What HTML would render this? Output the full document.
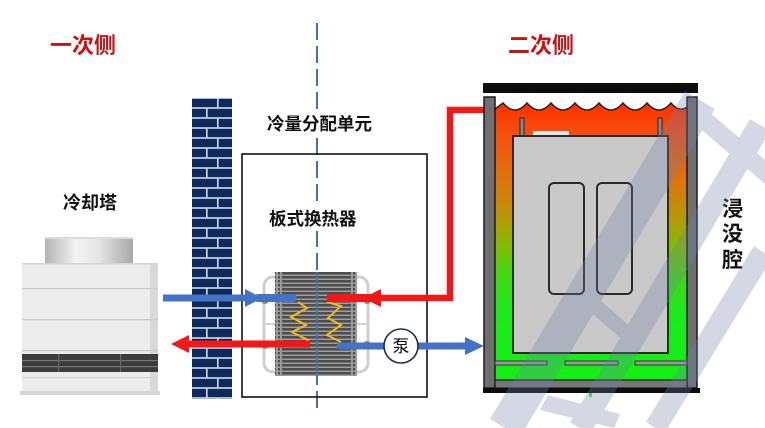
<!DOCTYPE html>
<html><head><meta charset="utf-8">
<style>
html,body{margin:0;padding:0;background:#fff;}
body{width:765px;height:428px;overflow:hidden;}
svg{display:block;}
text{font-family:"Liberation Sans","Noto Sans CJK SC","WenQuanYi Zen Hei",sans-serif;}
</style></head>
<body>
<svg width="765" height="428" viewBox="0 0 765 428" xmlns="http://www.w3.org/2000/svg">
<defs>
  <linearGradient id="liq" x1="0" y1="105" x2="0" y2="380" gradientUnits="userSpaceOnUse">
    <stop offset="0" stop-color="#ff3200"/>
    <stop offset="0.12" stop-color="#f55210"/>
    <stop offset="0.3" stop-color="#d77a0c"/>
    <stop offset="0.42" stop-color="#b39a06"/>
    <stop offset="0.52" stop-color="#7ebd06"/>
    <stop offset="0.62" stop-color="#42d812"/>
    <stop offset="0.75" stop-color="#1ee81e"/>
    <stop offset="1" stop-color="#12f012"/>
  </linearGradient>
  <linearGradient id="cap" x1="45" y1="0" x2="133" y2="0" gradientUnits="userSpaceOnUse">
    <stop offset="0" stop-color="#b4b4b4"/>
    <stop offset="0.35" stop-color="#f2f2f2"/>
    <stop offset="0.6" stop-color="#e6e6e6"/>
    <stop offset="1" stop-color="#a9a9a9"/>
  </linearGradient>
  <pattern id="brick" x="192" y="98" width="40" height="20" patternUnits="userSpaceOnUse">
    <rect x="0" y="0" width="40" height="20" fill="#d4dcea"/>
    <rect x="0" y="0.8" width="25" height="8.4" fill="#0e2a5c"/>
    <rect x="26.6" y="0.8" width="13.4" height="8.4" fill="#0e2a5c"/>
    <rect x="0" y="10.8" width="14" height="8.4" fill="#0e2a5c"/>
    <rect x="15.6" y="10.8" width="24.4" height="8.4" fill="#0e2a5c"/>
  </pattern>
  <pattern id="hxs" x="275" y="272" width="10" height="4" patternUnits="userSpaceOnUse">
    <rect width="10" height="4" fill="#4e4e4e"/>
    <rect y="2.6" width="10" height="1.3" fill="#a8a8a8"/>
  </pattern>
</defs>

<!-- titles -->
<text x="50" y="53" font-size="22" font-weight="bold" fill="#c81414">一次侧</text>
<text x="508" y="53" font-size="22" font-weight="bold" fill="#c81414">二次侧</text>

<!-- dashed center line -->
<line x1="317" y1="23" x2="317" y2="414" stroke="#4b6f9e" stroke-width="2" stroke-dasharray="17 6"/>

<!-- CDU box -->
<rect x="242" y="154" width="185" height="243" fill="none" stroke="#111" stroke-width="1.6"/>

<!-- label backgrounds to interrupt dashed line -->
<rect x="265" y="110" width="112" height="26" fill="#fff"/>
<rect x="267" y="205" width="94" height="26" fill="#fff"/>
<text x="267" y="130" font-size="17.5" font-weight="bold" fill="#111">冷量分配单元</text>
<text x="269" y="225" font-size="17.5" font-weight="bold" fill="#111">板式换热器</text>
<text x="63" y="209" font-size="18" font-weight="bold" fill="#111">冷却塔</text>

<!-- brick wall -->
<rect x="192" y="98" width="40" height="301" fill="url(#brick)"/>

<!-- cooling tower -->
<rect x="45" y="237" width="88" height="27" fill="url(#cap)"/>
<rect x="45" y="237" width="88" height="2" fill="#dcdcdc"/>
<rect x="22" y="263" width="136" height="131" fill="#ececec"/>
<rect x="150" y="263" width="8" height="131" fill="#d9d9d9"/>
<rect x="22" y="263" width="136" height="1.5" fill="#d4d4d4"/>
<rect x="22" y="288" width="136" height="1.2" fill="#c9c9c9"/>
<rect x="22" y="319" width="136" height="1.2" fill="#c9c9c9"/>
<rect x="22" y="350" width="136" height="1.2" fill="#c9c9c9"/>
<rect x="22" y="354" width="136" height="18" fill="#3c3c3c"/>
<rect x="22" y="360" width="136" height="1.2" fill="#777"/>
<rect x="22" y="366" width="136" height="1.2" fill="#777"/>
<rect x="58" y="354" width="1.2" height="18" fill="#666"/>
<rect x="120" y="354" width="1.2" height="18" fill="#666"/>
<rect x="22" y="377" width="136" height="1.2" fill="#d0d0d0"/>
<rect x="20" y="391" width="140" height="4" fill="#d6d6d6"/>

<!-- heat exchanger -->
<rect x="264" y="277" width="104" height="95" rx="9" fill="none" stroke="#cfcfcf" stroke-width="3"/>
<line x1="264" y1="324" x2="368" y2="324" stroke="#d0d0d0" stroke-width="2"/>
<rect x="275" y="272" width="82" height="104" fill="url(#hxs)"/>
<rect x="276" y="272" width="2" height="104" fill="#9a9a9a"/>
<rect x="280" y="272" width="2" height="104" fill="#9a9a9a"/>
<rect x="351" y="272" width="2" height="104" fill="#9a9a9a"/>
<rect x="355" y="272" width="2" height="104" fill="#9a9a9a"/>
<circle cx="265" cy="300" r="4" fill="#a7845f"/>
<circle cx="265" cy="345" r="4" fill="#a7845f"/>
<circle cx="367" cy="300" r="4" fill="#a7845f"/>
<circle cx="367" cy="345" r="4" fill="#a7845f"/>
<polyline points="298,302 307,308 291,317 306,325 292,332 308,340 301,344" fill="none" stroke="#f2b824" stroke-width="2"/>
<polyline points="327,302 341,306 328,318 341,325 327,335 341,342" fill="none" stroke="#f2b824" stroke-width="2"/>
<line x1="317" y1="272" x2="317" y2="376" stroke="#4b6f9e" stroke-width="2"/>

<!-- primary blue supply (tower -> HX) -->
<line x1="163" y1="298" x2="250" y2="298" stroke="#4472c4" stroke-width="7"/>
<polygon points="245,289 262,298 245,307" fill="#4472c4"/>
<line x1="258" y1="298" x2="293" y2="298" stroke="#4472c4" stroke-width="8" stroke-linecap="round"/>

<!-- primary red return (HX -> tower) -->
<line x1="185" y1="344" x2="310" y2="344" stroke="#f01818" stroke-width="7"/>
<polygon points="189,335 171,344 189,353" fill="#f01818"/>

<!-- secondary red (tank -> HX) -->
<polyline points="484,110 450,110 450,298 376,298" fill="none" stroke="#f01818" stroke-width="6.5"/>
<line x1="327" y1="298" x2="380" y2="298" stroke="#f01818" stroke-width="8"/>
<polygon points="381,289 363,298 381,307" fill="#f01818"/>

<!-- secondary blue (HX -> pump -> tank) -->
<line x1="340" y1="346" x2="470" y2="346" stroke="#4472c4" stroke-width="7" stroke-linecap="round"/>
<polygon points="465,337 484,346 465,355" fill="#4472c4"/>
<circle cx="401" cy="346" r="17" fill="#fff" stroke="#1e2e4e" stroke-width="1.6"/>
<text x="401" y="352" font-size="17" text-anchor="middle" fill="#111">泵</text>

<!-- tank -->
<rect x="483" y="83" width="215" height="10" fill="#0c0c0c"/>
<path d="M495,109 L503,103 q12,14 24,0 q12,14 24,0 q12,14 24,0 q12,14 24,0 q12,14 24,0 q12,14 24,0 q12,14 24,0 q8,10 16,4 L687,380 L495,380 Z" fill="url(#liq)"/>
<path d="M495,109 L503,103 q12,14 24,0 q12,14 24,0 q12,14 24,0 q12,14 24,0 q12,14 24,0 q12,14 24,0 q12,14 24,0 q8,10 16,4" fill="none" stroke="#222" stroke-width="1.5"/>
<!-- walls -->
<rect x="484" y="97" width="11" height="291" fill="#707070" stroke="#1a1a1a" stroke-width="1.5"/>
<rect x="687" y="97" width="10" height="291" fill="#707070" stroke="#1a1a1a" stroke-width="1.5"/>
<rect x="495" y="380" width="192" height="8" fill="#777" stroke="#1a1a1a" stroke-width="1.2"/>
<rect x="483" y="388" width="217" height="5" fill="#0c0c0c"/>
<rect x="589" y="393" width="3" height="4" fill="#3f3"/>
<!-- posts -->
<rect x="520" y="118" width="4" height="18" fill="#8a8a8a" stroke="#222" stroke-width="1"/>
<rect x="658" y="118" width="4" height="18" fill="#8a8a8a" stroke="#222" stroke-width="1"/>
<!-- server -->
<rect x="513" y="136" width="155" height="217" fill="#c9c9c9" stroke="#2a2a2a" stroke-width="2"/>
<rect x="533" y="131" width="36" height="4" fill="#e6e6e6"/>
<rect x="549" y="183" width="35" height="111" rx="5" fill="#c9c9c9" stroke="#2a2a2a" stroke-width="2"/>
<rect x="597" y="183" width="35" height="111" rx="5" fill="#c9c9c9" stroke="#2a2a2a" stroke-width="2"/>
<!-- bottom bars -->
<rect x="495" y="361" width="52" height="4" fill="#9a9a9a" stroke="#333" stroke-width="1"/>
<rect x="565" y="361" width="53" height="4" fill="#9a9a9a" stroke="#333" stroke-width="1"/>
<rect x="635" y="361" width="52" height="4" fill="#9a9a9a" stroke="#333" stroke-width="1"/>

<!-- tank label -->
<text x="722" y="216" font-size="21" font-weight="bold" fill="#111">浸</text>
<text x="722" y="241" font-size="21" font-weight="bold" fill="#111">没</text>
<text x="722" y="267" font-size="21" font-weight="bold" fill="#111">腔</text>

<!-- watermark -->
<g fill="#6f7fa8" opacity="0.3">
  <polygon points="490,419 520,437 715,109 685,91"/>
  <polygon points="570,422 590,434 770,131 750,119"/>
  <polygon points="700,104 765,160 765,184 690,120"/>
  <polygon points="646,422 664,434 772,258 754,246"/>
  <polygon points="548,395 620,414 614,428 540,410"/>
  <polygon points="600,300 640,335 632,348 590,312"/>
</g>
</svg>
</body></html>
